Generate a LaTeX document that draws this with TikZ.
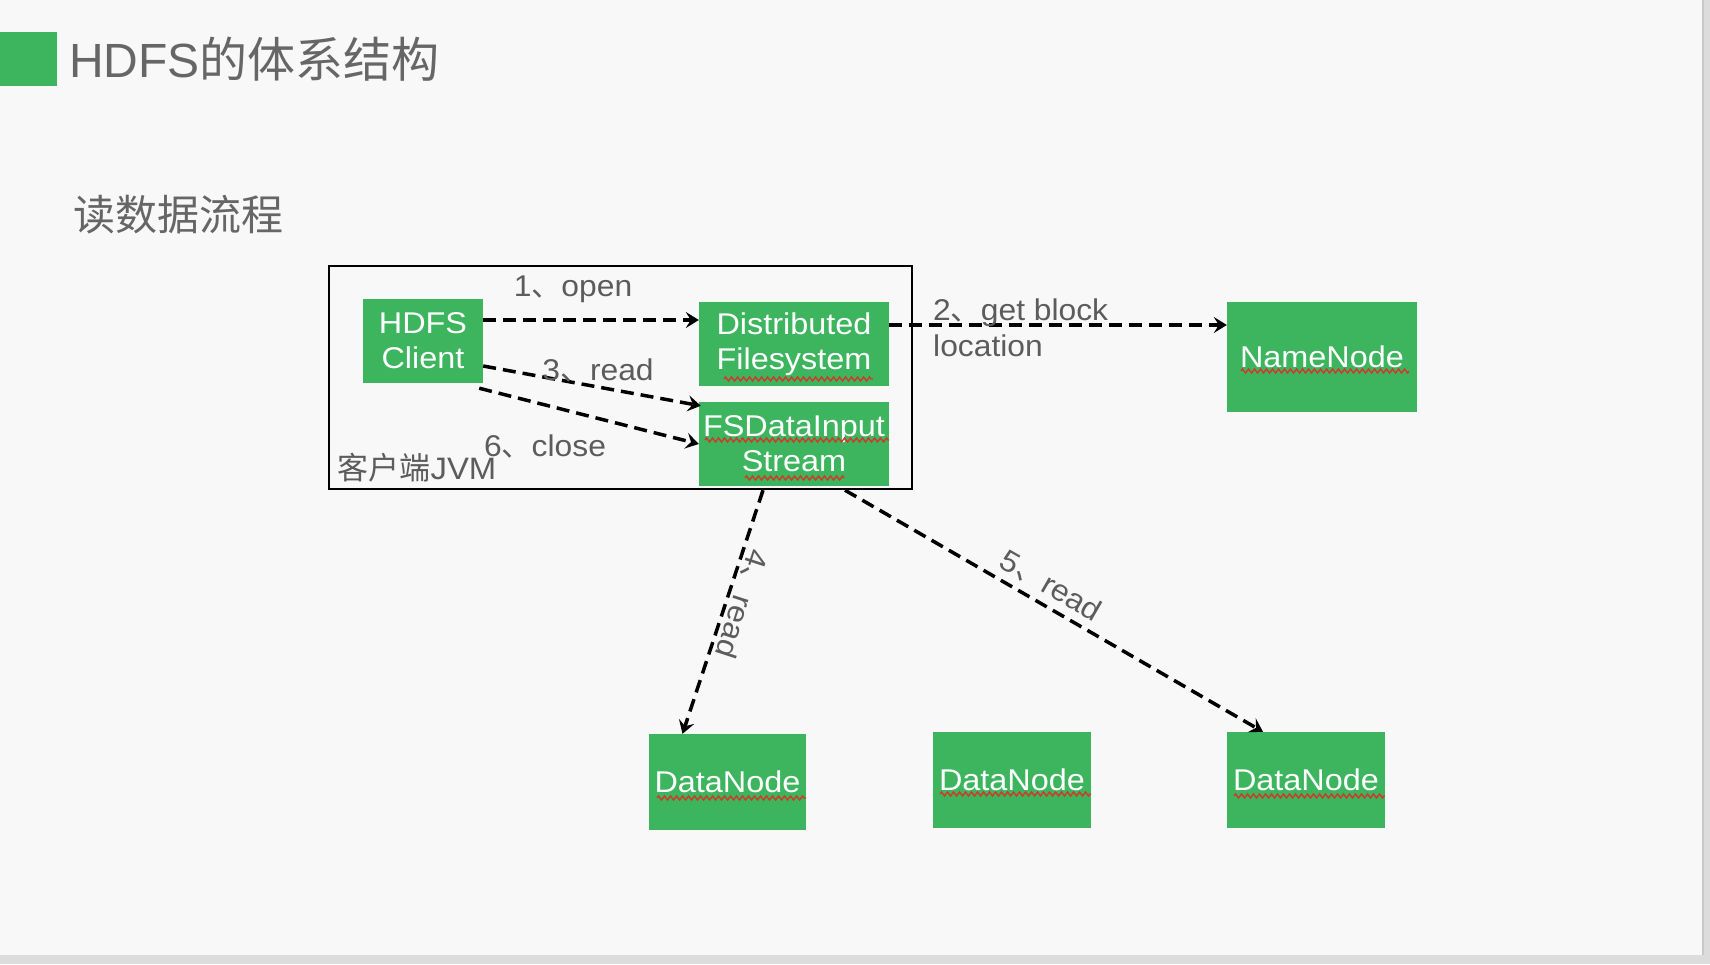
\documentclass[tikz,border=0pt]{standalone}
\usepackage{fontspec}
\setmainfont{Liberation Sans}
\newfontfamily\cjk{Noto Sans CJK SC}
\newfontfamily\boxf[FakeStretch=1.08]{Liberation Sans}
\newfontfamily\labf[FakeStretch=1.06]{Liberation Sans}
\usetikzlibrary{arrows.meta,calc,decorations.pathmorphing}
\definecolor{bg}{HTML}{F8F8F8}
\definecolor{hgreen}{HTML}{3DB55E}
\definecolor{txtgray}{HTML}{666666}
\definecolor{labgray}{HTML}{5C5C5C}
\definecolor{edgegray}{HTML}{DCDCDC}
\definecolor{edgedark}{HTML}{C8C8C8}
\definecolor{wavered}{HTML}{D03A2A}
\begin{document}
\begin{tikzpicture}[x=1pt,y=-1pt,
  gbox/.style={fill=hgreen, draw=none, text=white, inner sep=0pt, align=center,
    font=\boxf\fontsize{30}{35}\selectfont},
  arr/.style={draw=black, line width=3.5pt, dash pattern=on 13pt off 7pt,
    -{Stealth[length=13pt,width=16pt,inset=5pt]}},
  lab/.style={text=labgray, inner sep=0pt, font=\labf\fontsize{30}{36}\selectfont},
  wavy/.style={draw=wavered, line width=1.4pt, decorate,
    decoration={zigzag, segment length=6pt, amplitude=2pt}}]
% background
\fill[bg] (0,0) rectangle (1710,964);
\useasboundingbox (0,0) rectangle (1710,964);
\fill[edgegray] (0,955) rectangle (1710,964);
\fill[edgegray] (1702,0) rectangle (1710,964);
\fill[edgedark] (1702,0) rectangle (1704,955);
% title
\fill[hgreen] (0,32) rectangle (57,86);
\node[anchor=base west, inner sep=0pt, text=txtgray, font=\fontsize{48}{56}\selectfont] (title) at (69,77) {HDFS{\cjk 的体系结构}};
\node[anchor=base west, inner sep=0pt, text=txtgray, font=\cjk\fontsize{42}{50}\selectfont] (sub) at (73,230) {读数据流程};
% client JVM box
\node[draw=black, line width=2pt, minimum width=583pt, minimum height=223pt, inner sep=0pt] (jvm) at (620.5,377.5) {};
\node[lab, font=\labf\fontsize{31}{36}\selectfont] (jvmlab) at (417,468) {{\cjk 客户端}JVM};
% boxes
\node[gbox, minimum width=120pt, minimum height=84pt] (client) at (423,341) {HDFS\\Client};
\node[gbox, minimum width=190pt, minimum height=84pt] (dfs) at (794,344) {Distributed\\Filesystem};
\node[gbox, minimum width=190pt, minimum height=84pt] (fsd) at (794,444) {FSDataInput\\Stream};
\node[gbox, minimum width=190pt, minimum height=110pt] (nn) at (1322,357) {NameNode};
\node[gbox, minimum width=157pt, minimum height=96pt] (dn1) at (727.5,782) {DataNode};
\node[gbox, minimum width=158pt, minimum height=96pt] (dn2) at (1012,780) {DataNode};
\node[gbox, minimum width=158pt, minimum height=96pt] (dn3) at (1306,780) {DataNode};
% spell-check underlines
\draw[wavy] (724,379) -- (873,379);
\draw[wavy] (705,440) -- (889,440);
\draw[wavy] (745,478) -- (844,478);
\draw[wavy] (1241,371) -- (1409,371);
\draw[wavy] (657,798) -- (806,798);
\draw[wavy] (940,794) -- (1091,794);
\draw[wavy] (1234,796) -- (1385,796);
% connectors
\draw[arr] ($(client.east)+(0,-21)$) -- ($(dfs.west)+(0,-24)$);
\draw[arr] ($(dfs.east)+(0,-19)$) -- ($(nn.west)+(0,-32)$);
\draw[arr] ($(client.east)+(0,25)$) -- ($(fsd.north west)+(2,4)$);
\draw[arr] ($(client.south east)+(-4,5)$) -- (fsd.west);
\draw[arr] ($(fsd.south)+(-31,4)$) -- ($(dn1.north)+(-45,0)$);
\draw[arr] ($(fsd.south)+(51,4)$) -- ($(dn3.north)+(-43,0)$);
% labels
\node[lab] (l1) at (573,289) {1{\cjk 、}open};
\node[lab, anchor=west, align=left] (l2) at (933,328) {2{\cjk 、}get block\\location};
\node[lab] (l3) at (598,370) {3{\cjk 、}read};
\node[lab] (l6) at (545,446) {6{\cjk 、}close};
\node[lab, rotate=-108] (l4) at (742,604) {4{\cjk 、}read};
\node[lab, rotate=-30] (l5) at (1051,586) {5{\cjk 、}read};
\end{tikzpicture}
\end{document}
